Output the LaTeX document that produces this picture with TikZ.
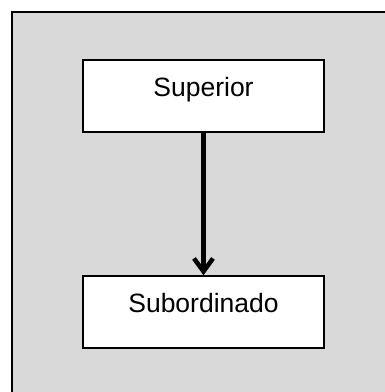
\documentclass[tikz,border=0pt]{standalone}
\usepackage{fontspec}
\setmainfont{Liberation Sans}
\usetikzlibrary{arrows.meta}
\definecolor{panelgray}{HTML}{D9D9D9}

\begin{document}
\begin{tikzpicture}[x=1pt,y=-1pt,
    box/.style={draw,line width=2pt,fill=white,minimum width=241pt,
      inner xsep=0pt,inner ysep=0pt,text height=36pt,text depth=35.5pt,
      font=\fontsize{26.5}{30}\selectfont}]
      \useasboundingbox (0,0) rectangle (385,392);
      % gray panel, only left and top edges visible
      \fill[panelgray] (11.5,11.5) rectangle (385,392);
      \draw[line width=2pt] (11.5,392) -- (11.5,11.5) -- (385,11.5);
      \node[box] (sup) at (203.5,95.8) {Superior};
      \node[box] (sub) at (203.5,312) {Subordinado};
      \draw[line width=4.5pt,-{Straight Barb[length=13pt,width=19pt]}] (sup) -- (sub);
    \end{tikzpicture}
\end{document}
